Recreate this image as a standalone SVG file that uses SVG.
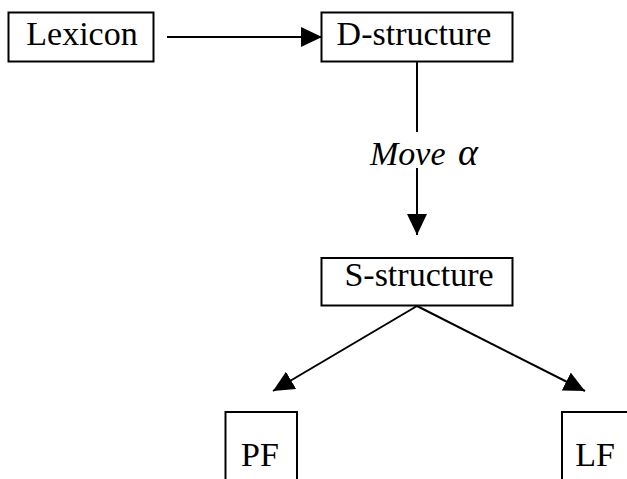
<svg xmlns="http://www.w3.org/2000/svg" width="627" height="479" viewBox="0 0 627 479">
  <style>
    .box { fill: #ffffff; stroke: #000000; stroke-width: 2; }
    .open { fill: none; stroke: #000000; stroke-width: 2; }
    .lbl { font-family: "Liberation Serif", "Times New Roman", serif; font-size: 34px; fill: #000000; text-anchor: middle; }
    .conn { stroke: #000000; stroke-width: 2; fill: none; }
    .edge { font-family: "Liberation Serif", "Times New Roman", serif; font-size: 34px; font-style: italic; fill: #000000; }
  </style>
  <defs>
    <marker id="arrow" markerUnits="userSpaceOnUse" markerWidth="22" markerHeight="20" refX="21" refY="10" orient="auto" viewBox="0 0 22 20">
      <path d="M0,0 L21,10 L0,20 z" fill="#000000"/>
    </marker>
  </defs>
  <rect width="627" height="479" fill="#ffffff"/>

  <g id="connectors">
    <line class="conn" x1="167" y1="37" x2="322" y2="37" marker-end="url(#arrow)"/>
    <line class="conn" x1="417" y1="61" x2="417" y2="132"/>
    <line class="conn" x1="417" y1="168" x2="417" y2="235" marker-end="url(#arrow)"/>
    <text class="edge" x="370" y="165">Move <tspan dx="4" font-size="38">α</tspan></text>
    <line class="conn" x1="417" y1="306" x2="273" y2="391" marker-end="url(#arrow)"/>
    <line class="conn" x1="417" y1="306" x2="585" y2="391" marker-end="url(#arrow)"/>
  </g>

  <g id="lexicon">
    <rect class="box" x="8.5" y="12.5" width="145" height="49"/>
    <text class="lbl" x="82" y="45">Lexicon</text>
  </g>

  <g id="d-structure">
    <rect class="box" x="321.5" y="12.5" width="191" height="49"/>
    <text class="lbl" x="414" y="45">D-structure</text>
  </g>

  <g id="s-structure">
    <rect class="box" x="321.5" y="258" width="191" height="47.5"/>
    <text class="lbl" x="419" y="286">S-structure</text>
  </g>

  <g id="pf">
    <path class="open" d="M225.5,480 L225.5,412 L297,412 L297,480"/>
    <text class="lbl" x="260" y="466">PF</text>
  </g>

  <g id="lf">
    <path class="open" d="M562,480 L562,412 L630,412"/>
    <text class="lbl" x="595" y="466">LF</text>
  </g>
</svg>
